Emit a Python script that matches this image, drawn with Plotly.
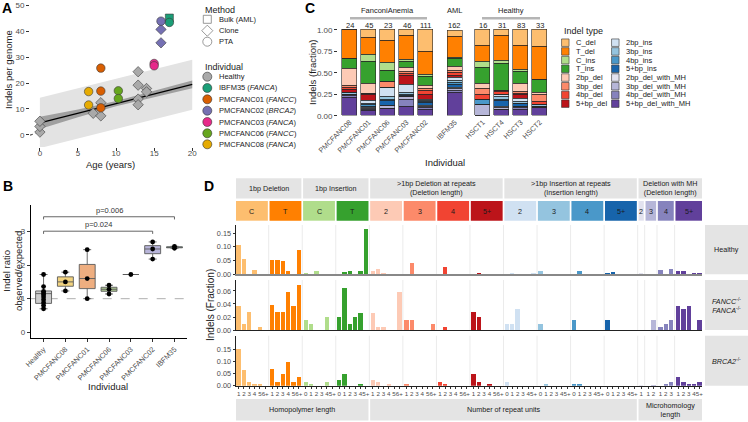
import plotly.graph_objects as go

W, H = 748, 422
def fx(p): return p / W
def fy(p): return 1 - p / H

FONT = "Liberation Sans"
TXT = "#1A1A1A"
TICK = "#4D4D4D"

# ===================== DATA =====================
# ---- Panel A: indels per genome vs age ----
a_individual = ["Healthy"] * 12 + ["PMCFANC08", "PMCFANC08", "PMCFANC01", "PMCFANC01", "PMCFANC01",
                                   "PMCFANC06", "PMCFANC06", "PMCFANC03", "PMCFANC03",
                                   "PMCFANC02", "PMCFANC02", "PMCFANC02", "IBFM35", "IBFM35"]
a_method = ["Clone"] * 12 + ["PTA"] * 9 + ["PTA", "Clone", "Clone", "Bulk (AML)", "PTA"]
a_age = [0, 0, 0, 7.0, 8.0, 8.0, 12.9, 12.9, 12.9, 12.9, 14.0, 14.0,
         6.4, 6.4, 8.0, 8.0, 8.0, 10.3, 10.3, 15.0, 15.0, 15.9, 15.9, 15.9, 17.0, 17.0]
a_indels = [1.0, 3.2, 5.2, 8.3, 7.3, 12.4, 24.4, 19.2, 13.8, 11.6, 17.9, 16.6,
            16.7, 11.5, 25.8, 16.9, 10.4, 17.0, 14.0, 27.6, 26.7, 44.0, 40.8, 35.6, 45.2, 43.5]
a_fit_age = [0, 20]
a_fit_indels = [4.6, 19.5]
a_ci_age = [0, 5, 10, 15, 20]
a_ci_low = [2.2, 6.8, 11.0, 14.6, 18.0]
a_ci_high = [7.0, 9.8, 13.1, 17.0, 21.0]
a_pi_age = [0, 20]
a_pi_low = [-5.2, 9.7]
a_pi_high = [14.3, 29.0]
a_dot_age = [-1.3, -0.3]
a_dot_indels = [-0.2, 0.9]

a_legend_individuals = ["Healthy", "IBFM35", "PMCFANC01", "PMCFANC02", "PMCFANC03", "PMCFANC06", "PMCFANC08"]
a_legend_labels = ["Healthy", "IBFM35 (<i>FANCA</i>)", "PMCFANC01 (<i>FANCC</i>)", "PMCFANC02 (<i>BRCA2</i>)",
                   "PMCFANC03 (<i>FANCA</i>)", "PMCFANC06 (<i>FANCC</i>)", "PMCFANC08 (<i>FANCA</i>)"]
a_colors = ["#A9A9A9", "#1B9E77", "#D95F02", "#7570B3", "#E7298A", "#66A61E", "#E6AB02"]
a_methods = ["Bulk (AML)", "Clone", "PTA"]
a_symbols = ["square", "diamond", "circle"]

# ---- Panel B: indel ratio observed/expected ----
b_names = ["Healthy", "PMCFANC08", "PMCFANC01", "PMCFANC06", "PMCFANC03", "PMCFANC02", "IBFM35"]
b_q1 = [0.86, 1.37, 1.30, 1.22, 1.72, 2.34, 2.515]
b_median = [1.15, 1.50, 1.60, 1.28, 1.72, 2.48, 2.53]
b_q3 = [1.23, 1.65, 2.02, 1.34, 1.72, 2.58, 2.545]
b_lower = [0.70, 1.23, 1.00, 1.14, 1.72, 2.18, 2.50]
b_upper = [1.72, 1.79, 2.46, 1.40, 1.72, 2.69, 2.56]
b_pts_healthy = [0.70, 0.80, 0.88, 0.97, 1.05, 1.12, 1.17, 1.22, 1.36, 1.72]
b_pts_fanc08 = [1.23, 1.50, 1.79]
b_pts_fanc01 = [1.00, 1.60, 2.46]
b_pts_fanc06 = [1.14, 1.28, 1.40]
b_pts_fanc03 = [1.72]
b_pts_fanc02 = [2.18, 2.48, 2.69]
b_pts_ibfm35 = [2.50, 2.56]
b_fill = ["#CDCDCD", "#F2D37F", "#EEAE80", "#B0CB94", "#F194C3", "#B8B5DA", "#8ECDB9"]
b_pvals = ["p=0.006", "p=0.024"]
b_p_from = [0, 0]
b_p_to = [6, 5]
b_p_level = [3.44, 3.01]

# ---- Panel C: stacked indel type fractions ----
c_samples_fa = ["PMCFANC08", "PMCFANC01", "PMCFANC06", "PMCFANC03", "PMCFANC02"]
c_samples_aml = ["IBFM35"]
c_samples_healthy = ["HSCT1", "HSCT4", "HSCT3", "HSCT2"]
c_counts = [24, 45, 23, 46, 111, 162, 16, 31, 83, 33]
c_types = ["C_del", "T_del", "C_ins", "T_ins", "2bp_del", "3bp_del", "4bp_del", "5+bp_del",
           "2bp_ins", "3bp_ins", "4bp_ins", "5+bp_ins",
           "2bp_del_with_MH", "3bp_del_with_MH", "4bp_del_with_MH", "5+bp_del_with_MH"]
c_colors = ["#FDBE6F", "#FF8001", "#B0DD8B", "#36A12E", "#FDCAB5", "#FC8A6A", "#F14432", "#BC141A",
            "#D0E1F2", "#94C4DF", "#4A98C9", "#1764AB", "#E2E2EF", "#B6B6D8", "#8683BD", "#61409B"]
frac_PMCFANC08 = [0.00, 0.33, 0.00, 0.12, 0.20, 0.02, 0.03, 0.03, 0.00, 0.02, 0.00, 0.00, 0.00, 0.02, 0.02, 0.21]
frac_PMCFANC01 = [0.086, 0.198, 0.086, 0.26, 0.11, 0.00, 0.02, 0.06, 0.04, 0.01, 0.02, 0.02, 0.01, 0.01, 0.01, 0.06]
frac_PMCFANC06 = [0.125, 0.255, 0.09, 0.13, 0.00, 0.07, 0.00, 0.00, 0.11, 0.03, 0.02, 0.05, 0.00, 0.035, 0.00, 0.085]
frac_PMCFANC03 = [0.07, 0.275, 0.02, 0.08, 0.04, 0.02, 0.03, 0.105, 0.09, 0.02, 0.02, 0.01, 0.00, 0.03, 0.085, 0.105]
frac_PMCFANC02 = [0.25, 0.27, 0.03, 0.095, 0.045, 0.02, 0.04, 0.06, 0.02, 0.01, 0.01, 0.03, 0.01, 0.015, 0.02, 0.075]
frac_IBFM35 = [0.07, 0.24, 0.02, 0.09, 0.05, 0.02, 0.03, 0.03, 0.03, 0.02, 0.03, 0.03, 0.02, 0.02, 0.02, 0.27]
frac_HSCT1 = [0.1875, 0.1875, 0.0625, 0.1875, 0.0625, 0.0625, 0.0625, 0.0, 0.0, 0.0, 0.0625, 0.0, 0.0, 0.125, 0.0, 0.0]
frac_HSCT4 = [0.065, 0.295, 0.03, 0.32, 0.0, 0.01, 0.03, 0.0, 0.03, 0.03, 0.02, 0.065, 0.01, 0.02, 0.01, 0.065]
frac_HSCT3 = [0.185, 0.28, 0.02, 0.14, 0.10, 0.02, 0.01, 0.045, 0.035, 0.02, 0.01, 0.025, 0.0, 0.02, 0.02, 0.07]
frac_HSCT2 = [0.195, 0.38, 0.01, 0.145, 0.03, 0.08, 0.03, 0.0, 0.0, 0.02, 0.01, 0.0, 0.0, 0.01, 0.0, 0.09]
c_fracs = [frac_PMCFANC08, frac_PMCFANC01, frac_PMCFANC06, frac_PMCFANC03, frac_PMCFANC02,
           frac_IBFM35, frac_HSCT1, frac_HSCT4, frac_HSCT3, frac_HSCT2]

# ---- Panel D: 83-context indel spectra ----
d_group_colors = c_colors
del_lab = ["1", "2", "3", "4", "5", "6+"]
ins_lab = ["0", "1", "2", "3", "4", "5+"]
d_ticklabels = [del_lab, del_lab, ins_lab, ins_lab, del_lab, del_lab, del_lab, del_lab,
                ins_lab, ins_lab, ins_lab, ins_lab, ["1"], ["1", "2"], ["1", "2", "3"], ["1", "2", "3", "4", "5+"]]
d_healthy = [
    [0.107, 0.056, 0, 0.015, 0, 0],
    [0.052, 0.052, 0.050, 0.011, 0, 0.089],
    [0.004, 0, 0.012, 0, 0, 0],
    [0, 0.007, 0.012, 0, 0.012, 0.165],
    [0.013, 0.018, 0.004, 0, 0, 0],
    [0, 0.040, 0, 0, 0, 0],
    [0, 0.028, 0, 0, 0, 0],
    [0, 0.004, 0, 0, 0, 0],
    [0, 0.003, 0, 0, 0, 0.002],
    [0.013, 0, 0, 0, 0, 0],
    [0, 0.013, 0, 0, 0, 0],
    [0.004, 0.007, 0, 0, 0, 0],
    [0.002],
    [0, 0],
    [0.016, 0, 0.018],
    [0.013, 0.013, 0, 0.003, 0.003],
]
d_fanc = [
    [0.037, 0.009, 0.027, 0, 0.005, 0],
    [0.038, 0.027, 0.027, 0.059, 0.037, 0.069],
    [0.0154, 0.009, 0, 0, 0.0205, 0],
    [0.0205, 0.064, 0.010, 0.0195, 0.0267, 0],
    [0.0256, 0.004, 0.004, 0, 0, 0.059],
    [0.0154, 0.0154, 0, 0, 0, 0.009],
    [0, 0.004, 0, 0, 0, 0],
    [0.027, 0.0205, 0, 0, 0, 0],
    [0.009, 0.009, 0.032, 0, 0, 0],
    [0.009, 0, 0, 0, 0, 0],
    [0.0154, 0, 0, 0, 0, 0],
    [0.0154, 0, 0, 0, 0, 0],
    [0],
    [0, 0.0154],
    [0.004, 0.009, 0.0154],
    [0.037, 0.032, 0.037, 0, 0.0154],
]
d_brca2 = [
    [0.156, 0.065, 0.018, 0.006, 0.006, 0],
    [0.069, 0.017, 0.049, 0.100, 0.017, 0.0375],
    [0.017, 0.007, 0, 0, 0.017, 0],
    [0.025, 0.049, 0, 0, 0.007, 0],
    [0.025, 0.017, 0, 0.007, 0, 0],
    [0.007, 0, 0, 0, 0, 0],
    [0.017, 0.007, 0, 0, 0, 0],
    [0.049, 0.017, 0, 0.007, 0, 0],
    [0.017, 0, 0, 0, 0, 0],
    [0, 0.007, 0, 0, 0, 0],
    [0.007, 0.007, 0, 0, 0, 0],
    [0, 0, 0, 0, 0, 0],
    [0.003],
    [0, 0.003],
    [0, 0.006, 0.017],
    [0.037, 0.017, 0.007, 0.007, 0.017],
]
d_rows = [d_healthy, d_fanc, d_brca2]
d_row_labels = ["Healthy", "<i>FANCC</i><sup>-/-</sup><br><i>FANCA</i><sup>-/-</sup>", "<i>BRCA2</i><sup>-/-</sup>"]
d_main_labels = ["1bp Deletion", "1bp Insertion", ">1bp Deletion at repeats<br>(Deletion length)",
                 ">1bp Insertion at repeats<br>(Insertion length)", "Deletion with MH<br>(Deletion length)"]
d_main_spans = [(0, 1), (2, 3), (4, 7), (8, 11), (12, 15)]
d_sub_labels = ["C", "T", "C", "T", "2", "3", "4", "5+", "2", "3", "4", "5+", "2", "3", "4", "5+"]
d_bottom_labels = ["Homopolymer length", "Number of repeat units", "Microhomology<br>length"]
d_bottom_spans = [(0, 3), (4, 11), (12, 15)]

# ===================== FIGURE =====================
fig = go.Figure()
ann = []
shapes = []

def txt(x, y, s, size=7.5, color=TXT, xanchor="center", yanchor="middle", angle=0,
        xref="paper", yref="paper", bold=False):
    if bold:
        s = "<b>" + s + "</b>"
    ann.append(dict(x=x, y=y, xref=xref, yref=yref, text=s, showarrow=False, textangle=angle,
                    font=dict(size=size, color=color, family=FONT), xanchor=xanchor, yanchor=yanchor))

# ---------- Panel A ----------
fig.add_trace(go.Scatter(x=a_pi_age + a_pi_age[::-1], y=a_pi_high + a_pi_low[::-1], fill="toself",
                         fillcolor="#E3E3E3", line=dict(width=0), mode="lines", hoverinfo="skip",
                         showlegend=False, xaxis="x", yaxis="y"))
fig.add_trace(go.Scatter(x=a_ci_age + a_ci_age[::-1], y=a_ci_high + a_ci_low[::-1], fill="toself",
                         fillcolor="#A0A0A0", line=dict(width=0), mode="lines", hoverinfo="skip",
                         showlegend=False, xaxis="x", yaxis="y"))
fig.add_trace(go.Scatter(x=a_fit_age, y=a_fit_indels, mode="lines", line=dict(color="black", width=1.2),
                         showlegend=False, xaxis="x", yaxis="y"))
fig.add_trace(go.Scatter(x=a_dot_age, y=a_dot_indels, mode="lines",
                         line=dict(color="#555555", width=1.1, dash="dot"),
                         showlegend=False, xaxis="x", yaxis="y"))
for ind, col in zip(a_legend_individuals, a_colors):
    for meth, sym in zip(a_methods, a_symbols):
        xs = [a for a, i, m in zip(a_age, a_individual, a_method) if i == ind and m == meth]
        ys = [v for v, i, m in zip(a_indels, a_individual, a_method) if i == ind and m == meth]
        if not xs:
            continue
        size = 8.5 if sym == "circle" else 8
        fig.add_trace(go.Scatter(x=xs, y=ys, mode="markers",
                                 marker=dict(symbol=sym, size=size, color=col,
                                             line=dict(color="#3A3A3A", width=0.6)),
                                 showlegend=False, xaxis="x", yaxis="y"))

# A legends (on canvas axis)
leg_x_sym = 207.3
fig.add_trace(go.Scatter(x=[leg_x_sym] * 3, y=[19.3, 30.7, 41.7], mode="markers",
                         marker=dict(symbol=a_symbols, size=[8, 8.5, 9], color="white",
                                     line=dict(color="#333333", width=0.7)),
                         showlegend=False, xaxis="x9", yaxis="y9", hoverinfo="skip"))
ind_y = [76.7, 88.0, 99.3, 110.7, 122.0, 133.3, 144.3]
fig.add_trace(go.Scatter(x=[leg_x_sym] * 7, y=ind_y, mode="markers",
                         marker=dict(symbol="circle", size=9, color=a_colors,
                                     line=dict(color="#333333", width=0.6)),
                         showlegend=False, xaxis="x9", yaxis="y9", hoverinfo="skip"))
txt(fx(202.7), fy(10), "Method", size=9, xanchor="left")
for m, yy in zip(a_methods, [19.3, 30.7, 41.7]):
    txt(fx(216.5), fy(yy), m, size=7.5, xanchor="left")
txt(fx(202.7), fy(66.7), "Individual", size=9, xanchor="left")
for lab, yy in zip(a_legend_labels, ind_y):
    txt(fx(216.5), fy(yy), lab, size=7.5, xanchor="left")

txt(fx(8), fy(70), "Indels per genome", size=9.5, angle=-90)
txt(fx(110), fy(164.5), "Age (years)", size=9.5)

# ---------- Panel B ----------
b_points = [b_pts_healthy, b_pts_fanc08, b_pts_fanc01, b_pts_fanc06, b_pts_fanc03, b_pts_fanc02, b_pts_ibfm35]
for i in range(len(b_names)):
    fig.add_trace(go.Box(x=[i], q1=[b_q1[i]], median=[b_median[i]], q3=[b_q3[i]],
                         lowerfence=[b_lower[i]], upperfence=[b_upper[i]], width=0.73,
                         fillcolor=b_fill[i], line=dict(color="#5A5A5A", width=0.9),
                         boxpoints=False, showlegend=False, hoverinfo="skip", xaxis="x2", yaxis="y2"))
for i, pts in enumerate(b_points):
    fig.add_trace(go.Scatter(x=[i] * len(pts), y=pts, mode="markers",
                             marker=dict(color="black", size=4.8), showlegend=False,
                             xaxis="x2", yaxis="y2", hoverinfo="skip"))
shapes.append(dict(type="line", xref="x2 domain", yref="y2", x0=0, x1=1, y0=1, y1=1,
                   line=dict(color="#B0B0B0", width=1, dash="dash"), layer="below"))
for lab, x0, x1, lev in zip(b_pvals, b_p_from, b_p_to, b_p_level):
    shapes.append(dict(type="path", xref="x2", yref="y2",
                       path=f"M {x0},{lev - 0.08} L {x0},{lev} L {x1},{lev} L {x1},{lev - 0.08}",
                       line=dict(color="#555555", width=0.9)))
    txt((x0 + x1) / 2, lev, lab, size=7.5, color="#333333", xref="x2", yref="y2", yanchor="bottom")
txt(fx(12), fy(271), "Indel ratio<br>observed/expected", size=9.5, angle=-90)
txt(fx(108), fy(386), "Individual", size=9.5)

# ---------- Panel C ----------
c_samples = c_samples_fa + c_samples_aml + c_samples_healthy
frac_by_sample = dict(zip(c_samples, c_fracs))
count_by_sample = dict(zip(c_samples, c_counts))
c_facets = [(c_samples_fa, "x3", "y3"), (c_samples_aml, "x4", "y4"), (c_samples_healthy, "x5", "y5")]
for samples, xa, ya in c_facets:
    for t in reversed(range(len(c_types))):
        fig.add_trace(go.Bar(x=samples, y=[frac_by_sample[s][t] for s in samples], width=0.75,
                             marker=dict(color=c_colors[t], line=dict(color="#262626", width=0.6)),
                             showlegend=False, hoverinfo="skip", xaxis=xa, yaxis=ya))
    for s in samples:
        txt(s, fy(25), str(count_by_sample[s]), size=7.5, xref=xa, yref="paper")

txt(fx(387.5), fy(10.7), "FanconiAnemia", size=7.5)
txt(fx(454.8), fy(10.7), "AML", size=7.5)
txt(fx(511.2), fy(10.7), "Healthy", size=7.5)
for x0, x1 in [(350, 427), (482, 540)]:
    shapes.append(dict(type="line", xref="paper", yref="paper", x0=fx(x0), x1=fx(x1), y0=fy(18.3), y1=fy(18.3),
                       line=dict(color="#B5B5B5", width=2.5)))
txt(fx(312), fy(73), "Indels (fraction)", size=9.5, angle=-90)
txt(fx(445), fy(162), "Individual", size=9.5)

# C legend
txt(fx(561.7), fy(30.7), "Indel type", size=9, xanchor="left")
leg_rows = [42.7 + 8.71 * k for k in range(8)]
fig.add_trace(go.Scatter(x=[565.3] * 8 + [615.3] * 8, y=leg_rows + leg_rows, mode="markers",
                         marker=dict(symbol="square", size=7.5, color=c_colors,
                                     line=dict(color="#333333", width=0.6)),
                         showlegend=False, xaxis="x9", yaxis="y9", hoverinfo="skip"))
for k, t in enumerate(c_types):
    xx = 574 if k < 8 else 624
    txt(fx(xx), fy(leg_rows[k % 8]), t, size=7.5, xanchor="left")

# ---------- Panel D ----------
GAP = 0.32
d_pos, d_lab, d_col = [], [], []
g_left, g_right = [], []
idx = 0
for g, labs in enumerate(d_ticklabels):
    first = idx + g * GAP
    for j, lab in enumerate(labs):
        d_pos.append(idx + g * GAP)
        d_lab.append(lab)
        d_col.append(d_group_colors[g])
        idx += 1
    g_left.append(first - 0.5)
    g_right.append(d_pos[-1] + 0.5)
d_xrange = [-0.5, d_pos[-1] + 0.5]

d_axes = [("x6", "y6"), ("x7", "y7"), ("x8", "y8")]
for row, (xa, ya) in zip(d_rows, d_axes):
    vals = [v for grp in row for v in grp]
    fig.add_trace(go.Bar(x=d_pos, y=vals, width=0.82, marker=dict(color=d_col, line=dict(width=0)),
                         showlegend=False, hoverinfo="skip", xaxis=xa, yaxis=ya))
    for g in range(len(g_left) - 1):
        xs = (g_right[g] + g_left[g + 1]) / 2
        shapes.append(dict(type="line", xref=xa, yref=ya + " domain", x0=xs, x1=xs, y0=0, y1=1,
                           line=dict(color="#EBEBEB", width=1), layer="below"))

STRIP = "#E4E4E4"
for lab, (g0, g1) in zip(d_main_labels, d_main_spans):
    shapes.append(dict(type="rect", xref="x6", yref="paper", x0=g_left[g0], x1=g_right[g1],
                       y0=fy(198.5), y1=fy(178.3), fillcolor=STRIP, line=dict(width=0)))
    txt((g_left[g0] + g_right[g1]) / 2, fy(188.4), lab, size=7.2, xref="x6")
for g, lab in enumerate(d_sub_labels):
    shapes.append(dict(type="rect", xref="x6", yref="paper", x0=g_left[g], x1=g_right[g],
                       y0=fy(220.7), y1=fy(201), fillcolor=d_group_colors[g], line=dict(width=0)))
    txt((g_left[g] + g_right[g]) / 2, fy(211), lab, size=7.2, xref="x6")
for lab, (g0, g1) in zip(d_bottom_labels, d_bottom_spans):
    shapes.append(dict(type="rect", xref="x6", yref="paper", x0=g_left[g0], x1=g_right[g1],
                       y0=fy(420.5), y1=fy(399), fillcolor=STRIP, line=dict(width=0)))
    txt((g_left[g0] + g_right[g1]) / 2, fy(409.8), lab, size=7.2, xref="x6")
d_row_px = [(225, 274.3), (280, 330), (335.7, 385.7)]
for lab, (t, b) in zip(d_row_labels, d_row_px):
    shapes.append(dict(type="rect", xref="paper", yref="paper", x0=fx(705), x1=fx(749),
                       y0=fy(b), y1=fy(t), fillcolor=STRIP, line=dict(width=0)))
    txt(fx(726.5), fy((t + b) / 2), lab, size=7.2)
txt(fx(210), fy(305), "Indels (Fraction)", size=10, angle=-90)

txt(fx(0), fy(8), "A", size=14, xanchor="left", bold=True, color="black")
txt(fx(1), fy(186), "B", size=14, xanchor="left", bold=True, color="black")
txt(fx(303), fy(8), "C", size=14, xanchor="left", bold=True, color="black")
txt(fx(202), fy(186), "D", size=14, xanchor="left", bold=True, color="black")

# ===================== AXES =====================
base = dict(showgrid=False, zeroline=False, ticks="outside", ticklen=3, tickcolor="#333333", tickwidth=0.8,
            tickfont=dict(size=8, color=TICK, family=FONT), automargin=False)

layout_axes = {}
layout_axes["xaxis"] = dict(base, domain=[fx(30), fx(194.5)], range=[-1.3, 20.3], tickvals=[0, 5, 10, 15, 20],
                            showline=False, anchor="y", tickangle=0, ticklabelstandoff=-5)
layout_axes["yaxis"] = dict(base, domain=[fy(147), fy(0)], range=[-4.77, 52.2], tickvals=[0, 10, 20, 30, 40, 50],
                            showline=False, anchor="x")
layout_axes["xaxis2"] = dict(base, domain=[fx(30.7), fx(186.7)], range=[-0.59, 6.56], tickvals=list(range(7)),
                             ticktext=b_names, tickangle=-45, showline=True, linecolor="black", linewidth=1,
                             anchor="y2", tickfont=dict(size=7.3, color=TICK, family=FONT))
layout_axes["yaxis2"] = dict(base, domain=[fy(338.3), fy(205)], range=[-0.18, 3.79], tickvals=[0, 1, 2, 3],
                             showline=True, linecolor="black", linewidth=1, anchor="x2")

c_dom = [(338.1, 436.9), (443.4, 466.2), (471.3, 551.1)]
for k, ((samples, xa, ya), (d0, d1)) in enumerate(zip(c_facets, c_dom)):
    n = len(samples)
    xname = "xaxis" + xa[1:]
    yname = "yaxis" + ya[1:]
    layout_axes[xname] = dict(showgrid=False, zeroline=False, domain=[fx(d0), fx(d1)], range=[-0.6, n - 0.4],
                              type="category", categoryorder="array", categoryarray=samples,
                              tickangle=-45, ticks="", showline=False, anchor=ya, automargin=False,
                              tickfont=dict(size=7.2, color=TICK, family=FONT))
    layout_axes[yname] = dict(base, domain=[fy(115.7), fy(19.7)], range=[0, 1.12],
                              tickvals=[0, 0.25, 0.5, 0.75, 1.0], tickformat=".2f",
                              showticklabels=(k == 0), ticks="outside" if k == 0 else "",
                              showline=False, anchor=xa)

d_dom_y = [(274.3, 225, 0.18, [0, 0.05, 0.10, 0.15]),
           (330, 280, 0.0769, [0, 0.02, 0.04, 0.06]),
           (385.7, 335.7, 0.2083, [0, 0.05, 0.10, 0.15])]
for k, ((xa, ya), (b, t, top, tv)) in enumerate(zip(d_axes, d_dom_y)):
    xname = "xaxis" + xa[1:]
    yname = "yaxis" + ya[1:]
    lc = "#888888" if k == 0 else "#222222"
    lw = 1.6 if k == 0 else 1
    layout_axes[xname] = dict(showgrid=False, zeroline=False, domain=[fx(236), fx(702)], range=d_xrange,
                              tickvals=d_pos, ticktext=d_lab, tickangle=0, automargin=False,
                              showticklabels=(k == 2), ticks="outside" if k == 2 else "", ticklen=2,
                              tickcolor="#333333", tickwidth=0.6,
                              showline=True, linecolor=lc, linewidth=lw, anchor=ya,
                              tickfont=dict(size=6.2, color=TICK, family=FONT))
    layout_axes[yname] = dict(base, domain=[fy(b), fy(t)], range=[0, top], tickvals=tv, tickformat=".2f",
                              showline=True, linecolor="#222222", linewidth=1, anchor=xa, ticklen=2.5,
                              tickfont=dict(size=7.3, color=TICK, family=FONT))

layout_axes["xaxis9"] = dict(domain=[0, 1], range=[0, W], visible=False, anchor="y9", fixedrange=True,
                             automargin=False)
layout_axes["yaxis9"] = dict(domain=[0, 1], range=[H, 0], visible=False, anchor="x9", fixedrange=True,
                             automargin=False)

fig.update_layout(template="none", width=W, height=H, margin=dict(l=0, r=0, t=0, b=0, pad=0),
                  autosize=False, paper_bgcolor="white",
                  plot_bgcolor="rgba(0,0,0,0)", barmode="stack", bargap=0, showlegend=False,
                  font=dict(family=FONT, color=TXT), annotations=ann, shapes=shapes, **layout_axes)

fig.write_html("out.html", config={"displayModeBar": False},
               post_script="document.body.style.margin='0px';document.body.style.overflow='hidden';")
